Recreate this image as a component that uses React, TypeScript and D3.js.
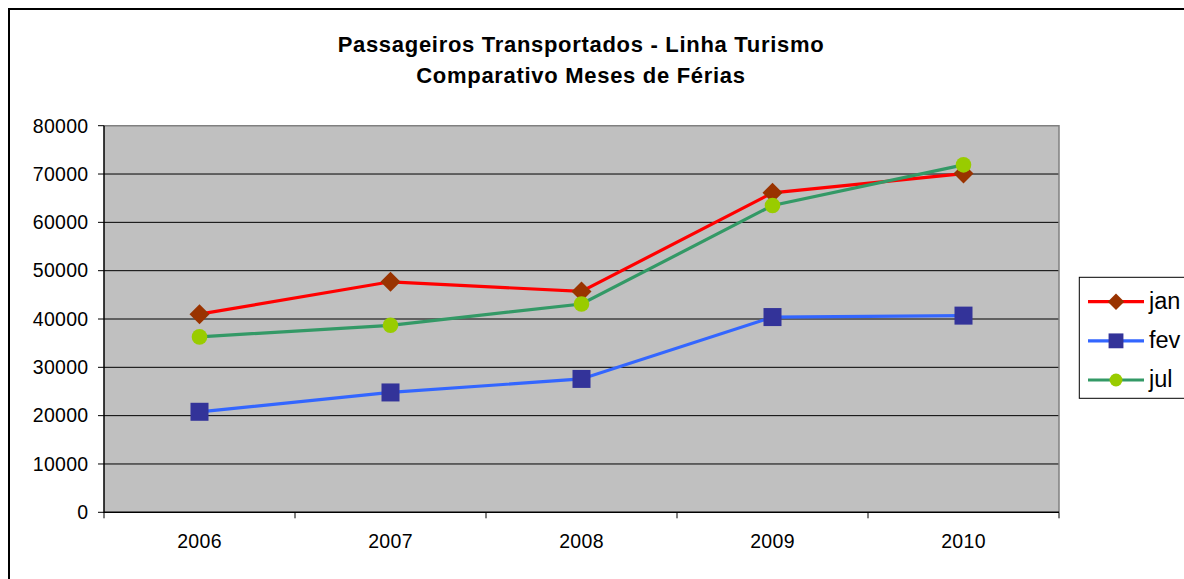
import * as d3 from 'd3';

const years = ['2006', '2007', '2008', '2009', '2010'];
const jan = [41000, 47700, 45700, 66100, 70100];
const fev = [20800, 24800, 27600, 40400, 40700];
const jul = [36300, 38700, 43100, 63500, 71900];
const yTicks = [0, 10000, 20000, 30000, 40000, 50000, 60000, 70000, 80000];
const titleLines = ['Passageiros Transportados - Linha Turismo', 'Comparativo Meses de Férias'];

const WIDTH = 1184;
const HEIGHT = 579;
const PLOT = { left: 104, right: 1059, top: 125.7, bottom: 512.3 };
const FONT = '"Liberation Sans", Arial, sans-serif';

const SERIES = [
    { name: 'jan', values: jan, line: '#ff0000', marker: '#993300', shape: 'diamond' },
    { name: 'fev', values: fev, line: '#3366ff', marker: '#333399', shape: 'square' },
    { name: 'jul', values: jul, line: '#339966', marker: '#99cc00', shape: 'circle' },
];

function Marker({ shape, x, y, fill, size }: { shape: string; x: number; y: number; fill: string; size: number }) {
    const h = size / 2;
    if (shape === 'diamond') {
        return <path d={`M${x},${y - h}L${x + h},${y}L${x},${y + h}L${x - h},${y}Z`} fill={fill} />;
    }
    if (shape === 'square') {
        const s = size * 0.9;
        return <rect x={x - s / 2} y={y - s / 2} width={s} height={s} fill={fill} />;
    }
    return <circle cx={x} cy={y} r={size * 0.39} fill={fill} />;
}

export default function App() {
    const xScale = d3.scaleBand().domain(years).range([PLOT.left, PLOT.right]);
    const yScale = d3.scaleLinear().domain([0, 80000]).range([PLOT.bottom, PLOT.top]);
    const bw = xScale.bandwidth();
    const cx = (d: string) => (xScale(d) ?? 0) + bw / 2;

    const lineBuilder = d3
        .line<number>()
        .x((_, i) => cx(years[i]))
        .y((d) => yScale(d));

    const legendRows = d3.scalePoint().domain(SERIES.map((s) => s.name)).range([301.7, 380]);

    return (
        <svg
            width={WIDTH}
            height={HEIGHT}
            style={{ position: 'fixed', left: 0, top: 0, display: 'block' }}
            fontFamily={FONT}
        >
            <rect x={0} y={0} width={WIDTH} height={HEIGHT} fill="white" />
            <rect x={9} y={9} width={WIDTH + 20} height={HEIGHT + 20} fill="white" stroke="black" strokeWidth={2} />

            {titleLines.map((t, i) => (
                <text
                    key={t}
                    x={581}
                    y={51.7 + i * 31.5}
                    textAnchor="middle"
                    fontSize={22}
                    fontWeight="bold"
                    letterSpacing={0.7}
                >
                    {t}
                </text>
            ))}

            <rect
                x={PLOT.left}
                y={PLOT.top}
                width={PLOT.right - PLOT.left}
                height={PLOT.bottom - PLOT.top}
                fill="#c0c0c0"
            />
            {yTicks.slice(1, -1).map((t) => (
                <line key={t} x1={PLOT.left} x2={PLOT.right} y1={yScale(t)} y2={yScale(t)} stroke="black" strokeWidth={1} />
            ))}
            <path
                d={`M${PLOT.left},${PLOT.top}H${PLOT.right}V${PLOT.bottom}`}
                fill="none"
                stroke="#808080"
                strokeWidth={1.5}
            />
            <path d={`M${PLOT.left},${PLOT.top}V${PLOT.bottom}H${PLOT.right}`} fill="none" stroke="black" strokeWidth={1.5} />

            {yTicks.map((t) => (
                <g key={t}>
                    <line x1={PLOT.left - 6} x2={PLOT.left} y1={yScale(t)} y2={yScale(t)} stroke="black" />
                    <text x={PLOT.left - 15.5} y={yScale(t) + 6.8} textAnchor="end" fontSize={19.5} letterSpacing={0.3}>
                        {t}
                    </text>
                </g>
            ))}

            {[...years.map((y) => xScale(y) ?? 0), PLOT.right].map((x, i) => (
                <line key={i} x1={x} x2={x} y1={PLOT.bottom} y2={PLOT.bottom + 6} stroke="black" />
            ))}
            {years.map((y) => (
                <text key={y} x={cx(y)} y={548} textAnchor="middle" fontSize={19.5} letterSpacing={0.3}>
                    {y}
                </text>
            ))}

            {SERIES.map((s) => (
                <path key={s.name} d={lineBuilder(s.values) ?? ''} fill="none" stroke={s.line} strokeWidth={3.2} />
            ))}
            {SERIES.map((s) =>
                s.values.map((v, i) => (
                    <Marker key={s.name + i} shape={s.shape} x={cx(years[i])} y={yScale(v)} fill={s.marker} size={20} />
                ))
            )}

            <rect x={1079.3} y={277.3} width={140} height={121} fill="white" stroke="black" strokeWidth={1} />
            {SERIES.map((s) => {
                const y = legendRows(s.name) ?? 0;
                return (
                    <g key={s.name}>
                        <line x1={1088} x2={1144} y1={y} y2={y} stroke={s.line} strokeWidth={3.2} />
                        <Marker shape={s.shape} x={1116} y={y} fill={s.marker} size={16.5} />
                        <text x={1149} y={y + 7} fontSize={23.5}>
                            {s.name}
                        </text>
                    </g>
                );
            })}
        </svg>
    );
}
